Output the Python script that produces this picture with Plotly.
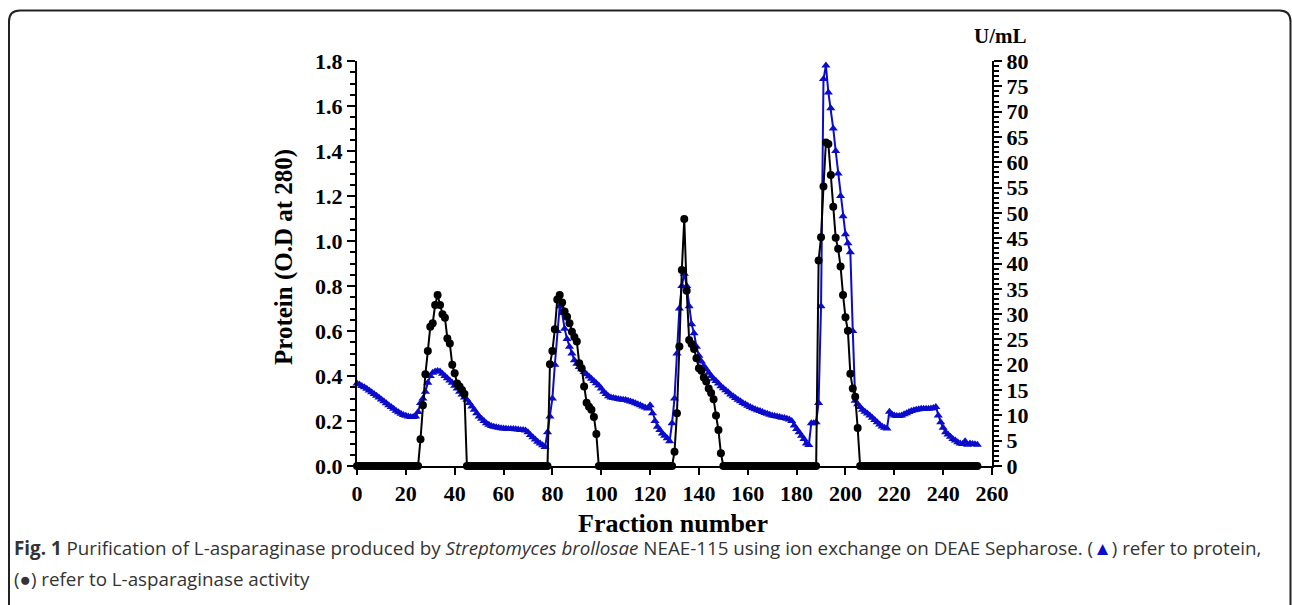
import plotly.graph_objects as go

# ---------------- data ----------------
fractions = list(range(0, 255))

# Protein (O.D at 280) - left axis, blue triangles
protein = [
    0.367, 0.362, 0.356, 0.350, 0.343, 0.336, 0.328, 0.320, 0.312, 0.304,
    0.296, 0.288, 0.279, 0.270, 0.262, 0.254, 0.246, 0.239, 0.232, 0.227,
    0.223, 0.220, 0.218, 0.218, 0.220, 0.240, 0.280, 0.300, 0.330, 0.370,
    0.400, 0.415, 0.420, 0.422, 0.420, 0.410, 0.400, 0.390, 0.380, 0.370,
    0.357, 0.345, 0.330, 0.318, 0.305, 0.295, 0.280, 0.265, 0.250, 0.235,
    0.220, 0.210, 0.200, 0.190, 0.183, 0.178, 0.175, 0.172, 0.170, 0.168,
    0.167, 0.166, 0.165, 0.165, 0.164, 0.163, 0.162, 0.160, 0.160, 0.158,
    0.150, 0.138, 0.128, 0.118, 0.108, 0.100, 0.092, 0.085, 0.150, 0.220,
    0.300, 0.450, 0.600, 0.710, 0.680, 0.610, 0.565, 0.530, 0.500, 0.470,
    0.455, 0.440, 0.430, 0.418, 0.408, 0.398, 0.388, 0.378, 0.368, 0.358,
    0.345, 0.330, 0.320, 0.310, 0.305, 0.302, 0.300, 0.298, 0.296, 0.295,
    0.293, 0.290, 0.287, 0.283, 0.279, 0.275, 0.270, 0.265, 0.260, 0.256,
    0.270, 0.235, 0.200, 0.175, 0.160, 0.145, 0.135, 0.123, 0.110, 0.190,
    0.300, 0.500, 0.700, 0.800, 0.855, 0.800, 0.710, 0.630, 0.590, 0.530,
    0.490, 0.465, 0.445, 0.430, 0.415, 0.400, 0.388, 0.378, 0.367, 0.355,
    0.346, 0.337, 0.328, 0.318, 0.310, 0.302, 0.295, 0.288, 0.280, 0.274,
    0.268, 0.262, 0.257, 0.252, 0.248, 0.244, 0.240, 0.236, 0.232, 0.228,
    0.225, 0.222, 0.220, 0.218, 0.215, 0.213, 0.210, 0.207, 0.200, 0.180,
    0.165, 0.150, 0.135, 0.120, 0.100, 0.093, 0.190, 0.190, 0.195, 0.280,
    0.710, 1.720, 1.780, 1.660, 1.590, 1.500, 1.400, 1.300, 1.200, 1.110,
    1.030, 0.990, 0.950, 0.600, 0.290, 0.275, 0.262, 0.250, 0.241, 0.233,
    0.225, 0.215, 0.205, 0.195, 0.185, 0.176, 0.170, 0.167, 0.241, 0.230,
    0.225, 0.222, 0.222, 0.225, 0.230, 0.235, 0.240, 0.245, 0.248, 0.250,
    0.252, 0.254, 0.255, 0.254, 0.255, 0.256, 0.258, 0.262, 0.225, 0.195,
    0.170, 0.150, 0.140, 0.130, 0.120, 0.113, 0.106, 0.100, 0.098, 0.110,
    0.095, 0.100, 0.098, 0.097, 0.095,
]

# L-asparaginase activity (U/mL) - right axis, black circles
activity = [
    0, 0, 0, 0, 0, 0, 0, 0, 0, 0,
    0, 0, 0, 0, 0, 0, 0, 0, 0, 0,
    0, 0, 0, 0, 0, 0, 5.3, 12.0, 18.1, 22.7,
    27.5, 28.2, 31.8, 33.8, 31.8, 30.0, 29.3, 25.2, 24.2, 20.0,
    18.3, 16.3, 15.7, 15.0, 14.2, 0, 0, 0, 0, 0,
    0, 0, 0, 0, 0, 0, 0, 0, 0, 0,
    0, 0, 0, 0, 0, 0, 0, 0, 0, 0,
    0, 0, 0, 0, 0, 0, 0, 0, 0, 20.1,
    22.7, 27.0, 32.9, 33.8, 32.3, 30.5, 29.5, 28.2, 26.5, 25.5,
    24.6, 20.3, 19.3, 15.7, 12.5, 11.7, 11.1, 9.7, 6.3, 0,
    0, 0, 0, 0, 0, 0, 0, 0, 0, 0,
    0, 0, 0, 0, 0, 0, 0, 0, 0, 0,
    0, 0, 0, 0, 0, 0, 0, 0, 0, 0,
    2.8, 10.4, 23.6, 38.7, 48.8, 34.6, 24.9, 24.1, 23.1, 21.3,
    19.3, 18.8, 17.5, 16.7, 15.3, 14.4, 13.2, 10.0, 7.1, 2.5,
    0, 0, 0, 0, 0, 0, 0, 0, 0, 0,
    0, 0, 0, 0, 0, 0, 0, 0, 0, 0,
    0, 0, 0, 0, 0, 0, 0, 0, 0, 0,
    0, 0, 0, 0, 0, 0, 0, 0, 0, 40.6,
    45.2, 55.2, 63.9, 63.6, 57.5, 51.2, 45.1, 42.9, 39.4, 33.8,
    29.4, 26.7, 18.2, 15.3, 13.7, 7.5, 0, 0, 0, 0,
    0, 0, 0, 0, 0, 0, 0, 0, 0, 0,
    0, 0, 0, 0, 0, 0, 0, 0, 0, 0,
    0, 0, 0, 0, 0, 0, 0, 0, 0, 0,
    0, 0, 0, 0, 0, 0, 0, 0, 0, 0,
    0, 0, 0, 0, 0,
]

x_tickvals = [0, 20, 40, 60, 80, 100, 120, 140, 160, 180, 200, 220, 240, 260]
left_tickvals = [0.0, 0.2, 0.4, 0.6, 0.8, 1.0, 1.2, 1.4, 1.6, 1.8]
left_ticktext = ["0.0", "0.2", "0.4", "0.6", "0.8", "1.0", "1.2", "1.4", "1.6", "1.8"]
right_tickvals = [0, 5, 10, 15, 20, 25, 30, 35, 40, 45, 50, 55, 60, 65, 70, 75, 80]
left_minor_step = 0.05
right_minor_step = 1

# ---------------- layout geometry ----------------
W, H = 1292, 605
ML, MR, MT, MB = 357, 300, 61, 139
PW = W - ML - MR
PH = H - MT - MB


def px(x):
    return (x - ML) / PW


def py(y):
    return (H - MB - y) / PH


BLUE = "#0b0bcc"
serif = "Liberation Serif"

fig = go.Figure()
fig.add_trace(go.Scatter(
    x=fractions, y=protein, mode="lines+markers", yaxis="y",
    line=dict(color=BLUE, width=2),
    marker=dict(symbol="triangle-up", size=8, color=BLUE),
    cliponaxis=False, showlegend=False,
))
fig.add_trace(go.Scatter(
    x=fractions, y=activity, mode="lines+markers", yaxis="y2",
    line=dict(color="black", width=2),
    marker=dict(symbol="circle", size=8, color="black"),
    cliponaxis=False, showlegend=False,
))

tickfont = dict(family=serif, size=22, color="black", weight="bold")

fig.update_layout(
    width=W, height=H,
    margin=dict(l=ML, r=MR, t=MT, b=MB),
    paper_bgcolor="white", plot_bgcolor="white",
    xaxis=dict(
        range=[0, 260], tickmode="array", tickvals=x_tickvals,
        ticks="outside", ticklen=7, tickwidth=2, tickcolor="black",
        showline=True, linewidth=2, linecolor="black", showgrid=False, zeroline=False,
        tickfont=tickfont,
    ),
    yaxis=dict(
        range=[0, 1.8], tickmode="array", tickvals=left_tickvals, ticktext=left_ticktext,
        ticks="outside", ticklen=8, tickwidth=2, tickcolor="black",
        showline=True, linewidth=2, linecolor="black",
        showgrid=False, zeroline=False, tickfont=tickfont,
        minor=dict(tick0=0, dtick=left_minor_step, ticks="outside", ticklen=5, tickwidth=2,
                   tickcolor="black"),
    ),
    yaxis2=dict(
        range=[0, 80], tickmode="array", tickvals=right_tickvals,
        ticks="outside", ticklen=8, tickwidth=2, tickcolor="black",
        overlaying="y", side="right", anchor="x",
        showline=True, linewidth=2, linecolor="black", showgrid=False, zeroline=False,
        tickfont=tickfont,
        minor=dict(tick0=0, dtick=right_minor_step, ticks="outside", ticklen=5, tickwidth=1.5,
                   tickcolor="black"),
    ),
)

annotations = [
    dict(text="Protein (O.D at 280)", x=px(284), y=py(257), xref="paper", yref="paper",
         textangle=-90, showarrow=False, xanchor="center", yanchor="middle",
         font=dict(family=serif, size=25, color="black", weight="bold")),
    dict(text="Fraction number", x=px(673), y=py(523), xref="paper", yref="paper",
         showarrow=False, xanchor="center", yanchor="middle",
         font=dict(family=serif, size=26, color="black", weight="bold")),
    dict(text="U/mL", x=px(1000), y=py(36), xref="paper", yref="paper",
         showarrow=False, xanchor="center", yanchor="middle",
         font=dict(family=serif, size=21, color="black", weight="bold")),
    dict(text="<b>Fig. 1</b> Purification of L-asparaginase produced by <i>Streptomyces brollosae</i> "
              "NEAE-115 using ion exchange on DEAE Sepharose. (<span style='color:#0b0bcc'>▲</span>) refer to protein,",
         x=px(12), y=py(548), xref="paper", yref="paper", showarrow=False,
         xanchor="left", yanchor="middle", align="left",
         font=dict(family="Open Sans", size=18.8, color="#333333")),
    dict(text="(●) refer to L-asparaginase activity",
         x=px(12), y=py(579), xref="paper", yref="paper", showarrow=False,
         xanchor="left", yanchor="middle", align="left",
         font=dict(family="Open Sans", size=18.8, color="#333333")),
]
fig.update_layout(annotations=annotations)

# rounded frame around figure
r = 11
Lx, Ty, Rx, By = 9, 10.5, 1290.5, 700
path = (f"M {px(Lx)},{py(By)} L {px(Lx)},{py(Ty + r)} Q {px(Lx)},{py(Ty)} {px(Lx + r)},{py(Ty)} "
        f"L {px(Rx - r)},{py(Ty)} Q {px(Rx)},{py(Ty)} {px(Rx)},{py(Ty + r)} L {px(Rx)},{py(By)}")
fig.add_shape(type="path", path=path, xref="paper", yref="paper",
              line=dict(color="#222222", width=2), layer="above")

fig.write_html("out.html")
